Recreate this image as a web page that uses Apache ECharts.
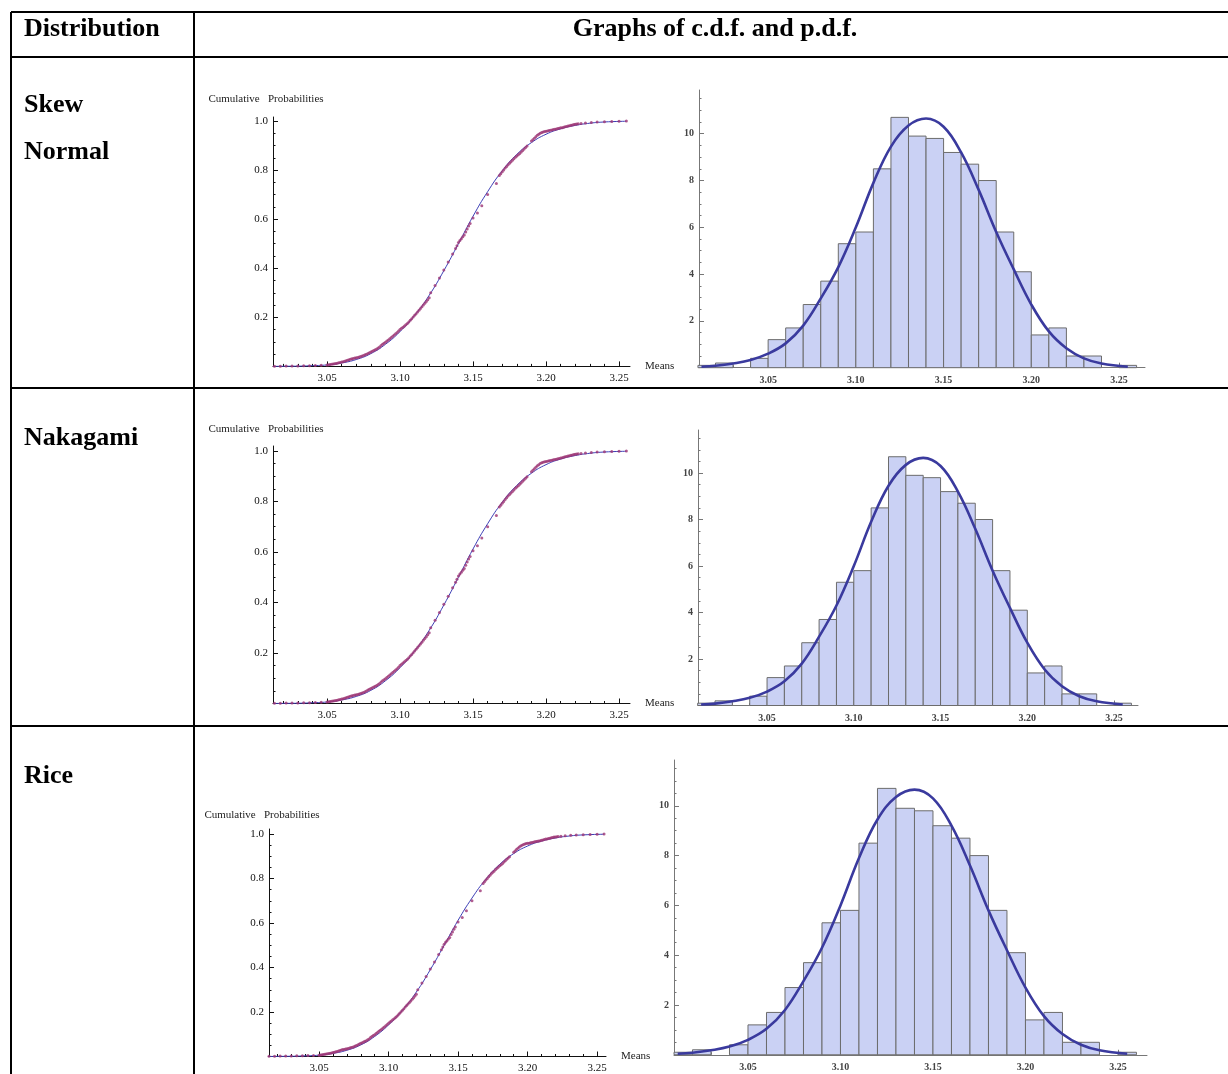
<!DOCTYPE html>
<html>
<head>
<meta charset="utf-8">
<title>c.d.f. and p.d.f.</title>
<script src="https://cdn.jsdelivr.net/npm/echarts@6/dist/echarts.min.js"></script>
<style>
    html, body { margin: 0; padding: 0; background: #fff; }
    #main { width: 1228px; height: 1074px; }
</style>
</head>
<body>
<div id="main"></div>
<script>
// histogram of the means (density, bin width 0.01)
let binEdges = [3.01, 3.02, 3.03, 3.04, 3.05, 3.06, 3.07, 3.08, 3.09, 3.10, 3.11, 3.12, 3.13,
    3.14, 3.15, 3.16, 3.17, 3.18, 3.19, 3.20, 3.21, 3.22, 3.23, 3.24, 3.25, 3.26];
let binDensity = [0.1, 0.2, 0, 0.4, 1.2, 1.7, 2.7, 3.7, 5.3, 5.8, 8.5, 10.7, 9.9,
    9.8, 9.2, 8.7, 8.0, 5.8, 4.1, 1.4, 1.7, 0.5, 0.5, 0, 0.1];

// fitted p.d.f.
let pdfX = [3.012, 3.02, 3.03, 3.04, 3.05, 3.06, 3.07, 3.08, 3.09, 3.10, 3.11, 3.12, 3.13,
    3.14, 3.15, 3.16, 3.17, 3.18, 3.19, 3.20, 3.21, 3.22, 3.23, 3.24, 3.255];
let pdfY = [0.04, 0.08, 0.18, 0.33, 0.6, 1.04, 1.8, 2.96, 4.3, 6.0, 7.9, 9.45, 10.35,
    10.65, 10.3, 9.2, 7.6, 5.8, 4.2, 2.7, 1.55, 0.83, 0.4, 0.18, 0.04];

// fitted c.d.f.
let cdfX = [3.013, 3.02, 3.03, 3.04, 3.05, 3.06, 3.07, 3.08, 3.09, 3.10, 3.11, 3.12, 3.13,
    3.14, 3.15, 3.16, 3.17, 3.18, 3.19, 3.20, 3.21, 3.22, 3.23, 3.24, 3.255];
let cdfY = [0.000, 0.0005, 0.001, 0.003, 0.006, 0.014, 0.028, 0.052, 0.090, 0.142, 0.208, 0.290, 0.390,
    0.500, 0.612, 0.712, 0.797, 0.864, 0.912, 0.946, 0.968, 0.982, 0.991, 0.996, 0.999];

// empirical c.d.f. points [mean, probability]
let ecdfPoints = [
    [3.014, .001], [3.018, .001], [3.022, .002], [3.026, .002], [3.030, .002], [3.034, .003],
    [3.038, .003], [3.042, .004], [3.046, .005],
    [3.050, .006], [3.051, .007], [3.052, .008], [3.053, .009], [3.054, .010], [3.055, .011],
    [3.056, .012], [3.057, .013], [3.058, .015], [3.059, .016], [3.060, .018], [3.061, .019],
    [3.062, .021], [3.063, .023], [3.064, .025], [3.065, .027], [3.066, .029], [3.067, .031],
    [3.068, .032], [3.069, .034], [3.070, .035], [3.071, .036], [3.072, .038], [3.073, .040],
    [3.074, .042], [3.075, .044], [3.076, .047], [3.077, .050], [3.078, .053], [3.079, .056],
    [3.080, .059], [3.081, .062], [3.082, .065], [3.083, .068], [3.084, .071], [3.085, .075],
    [3.086, .079], [3.087, .085], [3.088, .090], [3.089, .094], [3.090, .098], [3.091, .103],
    [3.092, .108], [3.093, .113], [3.094, .118], [3.095, .123], [3.096, .128], [3.097, .133],
    [3.098, .138], [3.099, .144], [3.100, .150], [3.101, .155], [3.102, .160], [3.103, .165],
    [3.104, .170], [3.105, .175], [3.106, .181], [3.107, .188], [3.108, .194], [3.109, .201],
    [3.110, .208], [3.111, .215], [3.112, .222], [3.113, .229], [3.114, .236], [3.115, .243],
    [3.116, .250], [3.117, .257], [3.118, .264], [3.119, .272], [3.120, .280],
    [3.121, .300], [3.124, .330], [3.127, .360], [3.130, .393], [3.133, .425], [3.136, .458],
    [3.138, .480], [3.139, .492], [3.140, .505], [3.141, .513], [3.142, .520], [3.143, .528],
    [3.144, .535], [3.145, .548], [3.146, .560], [3.147, .572], [3.148, .582],
    [3.150, .605], [3.153, .625], [3.156, .655], [3.160, .700], [3.166, .745],
    [3.168, .778], [3.169, .785], [3.170, .793], [3.171, .800], [3.172, .808], [3.173, .815],
    [3.174, .822], [3.175, .828], [3.176, .834], [3.177, .840], [3.178, .846], [3.179, .852],
    [3.180, .857], [3.181, .862], [3.182, .868], [3.183, .874], [3.184, .880], [3.185, .886],
    [3.186, .892], [3.187, .898],
    [3.190, .918], [3.191, .924], [3.192, .930], [3.193, .936], [3.194, .942], [3.195, .946],
    [3.196, .950], [3.197, .953], [3.198, .955], [3.199, .957], [3.200, .958], [3.201, .959],
    [3.202, .961], [3.203, .962], [3.204, .963], [3.205, .965], [3.206, .966], [3.207, .967],
    [3.208, .969], [3.209, .970], [3.210, .972], [3.211, .973], [3.212, .975], [3.213, .977],
    [3.214, .978], [3.215, .980], [3.216, .981], [3.217, .983], [3.218, .984], [3.219, .986],
    [3.220, .987], [3.221, .988], [3.222, .989],
    [3.224, .990], [3.227, .992], [3.231, .994], [3.235, .996], [3.240, .997], [3.245, .998],
    [3.250, .999], [3.255, 1.000]
];

// tick labels
let meanTicks = [3.05, 3.10, 3.15, 3.20, 3.25];
let probTicks = [0.2, 0.4, 0.6, 0.8, 1.0];
let densTicks = [2, 4, 6, 8, 10];

let rowNames = [['Skew', 'Normal'], ['Nakagami'], ['Rice']];

function steps(from, to, step) {
    let out = [];
    for (let v = from; v <= to + 1e-9; v += step) out.push(+v.toFixed(4));
    return out;
}

// pixel boxes of the plots (cdf on the left, histogram on the right)
let cdfBoxes = [
    { left: 273, top: 117, width: 357, height: 249.4, xMin: 3.013, xMax: 3.2575, yMax: 1.0163, nameGap: 12 },
    { left: 273, top: 446, width: 357, height: 257.5, xMin: 3.013, xMax: 3.2575, yMax: 1.0198, nameGap: 11 },
    { left: 269, top: 829, width: 337, height: 227.5, xMin: 3.014, xMax: 3.2564, yMax: 1.0225, nameGap: 8 }
];
let histBoxes = [
    { left: 699, top: 90, width: 446, height: 277.7, xMin: 3.0106, xMax: 3.2648, yMax: 11.87 },
    { left: 698, top: 430, width: 440, height: 275.5, xMin: 3.0102, xMax: 3.2638, yMax: 11.85 },
    { left: 674, top: 760, width: 473, height: 294.75, xMin: 3.010, xMax: 3.2657, yMax: 11.84 }
];

let grids = [], xAxes = [], yAxes = [], series = [];

function addAxes(box, opt) {
    let g = grids.length;
    grids.push({ left: box.left, top: box.top, width: box.width, height: box.height });
    let ax = xAxes.length, ay = yAxes.length;
    // main x axis with labels
    xAxes.push({
        gridIndex: g, type: 'value', min: box.xMin, max: box.xMax, position: 'bottom',
        name: opt.xName || '', nameLocation: 'end', nameGap: 15,
        nameTextStyle: { fontFamily: 'Liberation Serif', fontSize: 11, color: '#222', align: 'left', verticalAlign: 'middle' },
        axisLine: { onZero: false, lineStyle: { color: opt.axisColor, width: 1 } },
        axisTick: { inside: true, length: 5, customValues: meanTicks, lineStyle: { color: opt.axisColor } },
        axisLabel: Object.assign({ customValues: meanTicks, formatter: v => v.toFixed(2), margin: opt.xMargin }, opt.labelStyle),
        splitLine: { show: false }
    });
    // minor ticks only
    xAxes.push({
        gridIndex: g, type: 'value', min: box.xMin, max: box.xMax, position: 'bottom',
        axisLine: { show: false },
        axisTick: { inside: true, length: 2.5, customValues: steps(3.02, 3.25, 0.01), lineStyle: { color: opt.axisColor } },
        axisLabel: { show: false }, splitLine: { show: false }
    });
    yAxes.push({
        gridIndex: g, type: 'value', min: 0, max: box.yMax, position: 'left',
        name: opt.yName || '', nameLocation: 'end', nameGap: box.nameGap || 10,
        nameTextStyle: { fontFamily: 'Liberation Serif', fontSize: 11, color: '#222', padding: [0, 14, 0, 0] },
        axisLine: { onZero: false, lineStyle: { color: opt.axisColor, width: 1 } },
        axisTick: { inside: true, length: 5, customValues: opt.yTicks, lineStyle: { color: opt.axisColor } },
        axisLabel: Object.assign({ customValues: opt.yTicks, formatter: opt.yFmt, margin: 5 }, opt.labelStyle),
        splitLine: { show: false }
    });
    yAxes.push({
        gridIndex: g, type: 'value', min: 0, max: box.yMax, position: 'left',
        axisLine: { show: false },
        axisTick: { inside: true, length: 2.5, customValues: opt.yMinor, lineStyle: { color: opt.axisColor } },
        axisLabel: { show: false }, splitLine: { show: false }
    });
    return { x: ax, y: ay };
}

let cdfLabel = { fontFamily: 'Liberation Serif', fontSize: 11, color: '#111' };
let histLabel = { fontFamily: 'Liberation Serif', fontSize: 10, fontWeight: 'bold', color: '#444' };

let cdfLine = cdfX.map((x, i) => [x, cdfY[i]]);
let pdfLine = pdfX.map((x, i) => [x, pdfY[i]]);
let bins = [];
binDensity.forEach((d, i) => { if (d > 0) bins.push([binEdges[i], binEdges[i + 1], d]); });

for (let r = 0; r < 3; r++) {
    let a = addAxes(cdfBoxes[r], {
        axisColor: '#111', labelStyle: cdfLabel, xName: 'Means', yName: 'Cumulative   Probabilities',
        yTicks: probTicks, yMinor: steps(0.05, 1.0, 0.05), yFmt: v => v.toFixed(1), xMargin: 6
    });
    series.push({
        type: 'line', xAxisIndex: a.x, yAxisIndex: a.y, data: cdfLine, smooth: true,
        showSymbol: false, silent: true, lineStyle: { color: '#3b3db5', width: 1 }, z: 3
    });
    series.push({
        type: 'scatter', xAxisIndex: a.x, yAxisIndex: a.y, data: ecdfPoints, symbolSize: 3,
        itemStyle: { color: '#9c3574' }, silent: true, z: 4
    });

    let b = addAxes(histBoxes[r], {
        axisColor: '#777', labelStyle: histLabel, xMargin: 8,
        yTicks: densTicks, yMinor: steps(0.5, 11.5, 0.5), yFmt: v => String(v)
    });
    series.push({
        type: 'custom', xAxisIndex: b.x, yAxisIndex: b.y, data: bins, silent: true, z: 2,
        encode: { x: [0, 1], y: 2 },
        renderItem: function (params, api) {
            let p0 = api.coord([api.value(0), api.value(2)]);
            let p1 = api.coord([api.value(1), 0]);
            return {
                type: 'rect',
                shape: { x: p0[0], y: p0[1], width: p1[0] - p0[0], height: p1[1] - p0[1] },
                style: { fill: '#cad1f4', stroke: '#6c6c6c', lineWidth: 1 }
            };
        }
    });
    series.push({
        type: 'line', xAxisIndex: b.x, yAxisIndex: b.y, data: pdfLine, smooth: 0.4,
        showSymbol: false, silent: true, lineStyle: { color: '#3a3a9e', width: 2.6 }, z: 5
    });
}

// table frame
let lineStyle = { stroke: '#000', lineWidth: 2 };
let frame = [
    [11, 12, 1228, 12], [11, 57, 1228, 57], [11, 388, 1228, 388], [11, 726, 1228, 726],
    [11, 12, 11, 1074], [194, 12, 194, 1074]
].map(p => ({ type: 'line', shape: { x1: p[0], y1: p[1], x2: p[2], y2: p[3] }, style: lineStyle, silent: true }));

let headFont = { fontFamily: 'Liberation Serif', fontSize: 26, fontWeight: 'bold', fill: '#000', verticalAlign: 'middle' };
let texts = [
    { type: 'text', x: 24, y: 29, style: Object.assign({ text: 'Distribution' }, headFont) },
    { type: 'text', x: 715, y: 29, style: Object.assign({ text: 'Graphs of c.d.f. and p.d.f.', align: 'center' }, headFont) },
    { type: 'text', x: 24, y: 105, style: Object.assign({ text: rowNames[0][0] }, headFont) },
    { type: 'text', x: 24, y: 152, style: Object.assign({ text: rowNames[0][1] }, headFont) },
    { type: 'text', x: 24, y: 438, style: Object.assign({ text: rowNames[1][0] }, headFont) },
    { type: 'text', x: 24, y: 776, style: Object.assign({ text: rowNames[2][0] }, headFont) }
];

var myChart = echarts.init(document.getElementById('main'), null, { renderer: 'canvas' });
myChart.setOption({
    backgroundColor: '#fff',
    animation: false,
    grid: grids,
    xAxis: xAxes,
    yAxis: yAxes,
    series: series,
    graphic: frame.concat(texts)
});
</script>
</body>
</html>
